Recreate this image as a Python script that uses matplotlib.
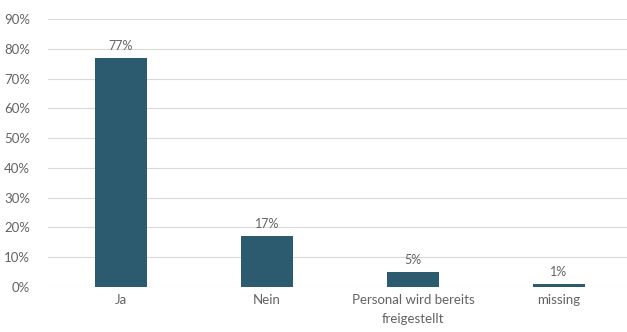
import matplotlib
matplotlib.use("Agg")
import matplotlib.pyplot as plt
from matplotlib.ticker import FuncFormatter

categories = ["Ja", "Nein", "Personal wird bereits\nfreigestellt", "missing"]
values = [0.77, 0.17, 0.05, 0.01]
yticks = [i / 10 for i in range(10)]

bar_color = "#2C5A6E"
text_color = "#636363"

plt.rcParams['font.family'] = ['Lato', 'DejaVu Sans']

fig = plt.figure(figsize=(6.27, 3.32), dpi=100)
ax = fig.add_axes([48 / 627, 45 / 332, (627 - 48) / 627, (287 - 19) / 332])

x = list(range(len(categories)))
bars = ax.bar(x, values, width=0.356, color=bar_color, zorder=3)
for xi, v in zip(x, values):
    ax.text(xi, v + 0.02, f"{round(v*100)}%", ha="center", va="bottom",
            fontsize=9, color=text_color)

ax.set_ylim(0, 0.9)
ax.set_xlim(-0.5, 3.466)
ax.set_yticks(yticks)
ax.yaxis.set_major_formatter(FuncFormatter(lambda v, p: f"{round(v*100)}%"))
ax.set_xticks(x)
ax.set_xticklabels(categories)
ax.grid(axis="y", color="#D9D9D9", linewidth=0.8, zorder=0)
for s in ["top", "right", "left", "bottom"]:
    ax.spines[s].set_visible(False)
ax.tick_params(axis="both", length=0, labelsize=9.5, labelcolor=text_color)
ax.tick_params(axis="y", pad=13)
ax.tick_params(axis="x", pad=5)
for lbl in ax.get_xticklabels():
    lbl.set_linespacing(1.75)

fig.savefig("out.png", dpi=100)
